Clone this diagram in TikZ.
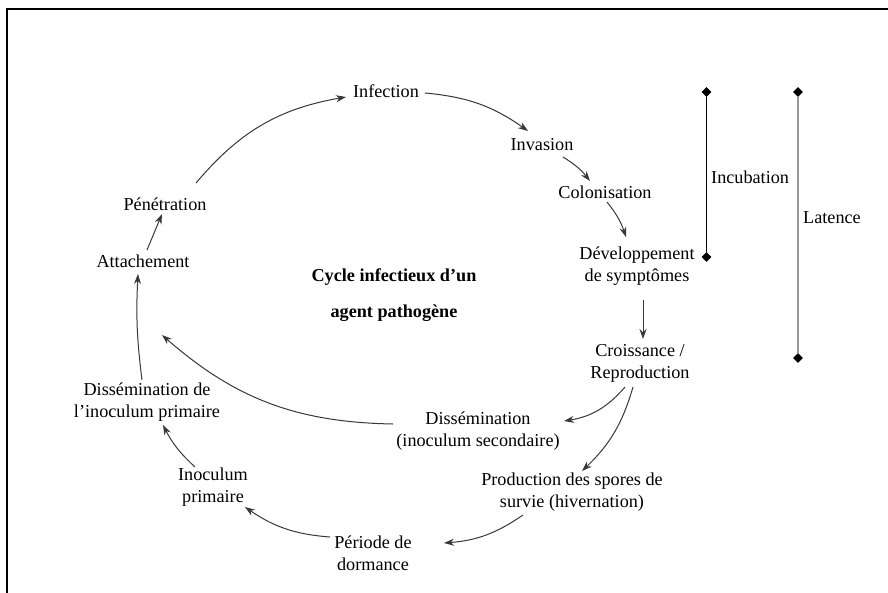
\documentclass[tikz,border=0pt]{standalone}
\usepackage{fontspec}
\setmainfont{Liberation Serif}
\usetikzlibrary{arrows.meta,shapes.geometric,calc}
\begin{document}
\begin{tikzpicture}[x=1pt,y=-1pt,
  lbl/.style={font=\fontsize{18.2}{22}\selectfont, align=center, inner sep=0pt},
  conn/.style={draw=black!78, line width=1pt, -{Stealth[length=10pt,width=7pt]}},
  dia/.style={diamond, fill=black, inner sep=0pt, minimum size=10pt}]
\useasboundingbox (0,0) rectangle (888,592);
\fill[white] (0,0) rectangle (888,592);
\draw[line width=2.2pt] (7,593) -- (7,9) -- (889,9);

\node[lbl] (inf) at (386,91) {Infection};
\node[lbl] (inv) at (542,145) {Invasion};
\node[lbl] (col) at (605,192) {Colonisation};
\node[lbl] (dev) at (637,266) {Développement\\de symptômes};
\node[lbl] (cro) at (640,363) {Croissance /\\Reproduction};
\node[lbl] (dsec) at (478,431) {Dissémination\\(inoculum secondaire)};
\node[lbl] (prod) at (572,492) {Production des spores de\\survie (hivernation)};
\node[lbl] (dor) at (373,553) {Période de\\dormance};
\node[lbl] (inoc) at (213,487) {Inoculum\\primaire};
\node[lbl] (dprim) at (147,402) {Dissémination de\\l’inoculum primaire};
\node[lbl] (att) at (143,261) {Attachement};
\node[lbl] (pen) at (165,204) {Pénétration};
\node[lbl, font=\bfseries\fontsize{18.2}{36}\selectfont] (cyc) at (394,295) {Cycle infectieux d’un\\agent pathogène};
\coordinate (rejoin) at (162,335);

\draw[conn] ($(pen)+(31,-21)$) to[bend left=20] ($(inf)+(-40,6)$);
\draw[conn] ($(inf)+(39,2)$) to[bend left=15] ($(inv)+(-14,-14)$);
\draw[conn] ($(inv)+(21,12)$) to[bend left=10] ($(col)+(-15,-11)$);
\draw[conn] ($(col)+(2,10)$) to[bend left=10] ($(dev)+(-11,-29)$);
\draw[conn] ($(dev)+(6,34)$) -- ($(cro)+(3,-24)$);
\draw[conn] ($(cro)+(-15,24)$) to[bend left=20] ($(dsec)+(86,-10)$);
\draw[conn] ($(cro)+(-7,24)$) to[bend left=15] ($(prod)+(10,-21)$);
\draw[conn] ($(prod)+(-49,23)$) to[bend left=15] ($(dor)+(71,-10)$);
\draw[conn] ($(dor)+(-43,-16)$) to[bend left=15] ($(inoc)+(32,20)$);
\draw[conn] ($(inoc)+(-18,-20)$) to[bend left=10] ($(dprim)+(16,23)$);
\draw[conn] ($(dprim)+(-5,-22)$) to[bend left=5] ($(att)+(-5,13)$);
\draw[conn] ($(att)+(4,-11)$) -- ($(pen)+(-3,10)$);
\draw[conn] ($(dsec)+(-85,-7)$) to[bend left=20] (rejoin);

\node[dia] (ia) at (706.5,92) {};
\node[dia] (ib) at (706.5,257) {};
\node[dia] (la) at (798,92) {};
\node[dia] (lb) at (798,358) {};
\draw[line width=1pt] (ia) -- (ib);
\draw[line width=1.6pt, black!40] (la) -- (lb);
\node[lbl, anchor=west] (incub) at (711,177) {Incubation};
\node[lbl, anchor=west] (lat) at (803,218) {Latence};
\end{tikzpicture}
\end{document}
